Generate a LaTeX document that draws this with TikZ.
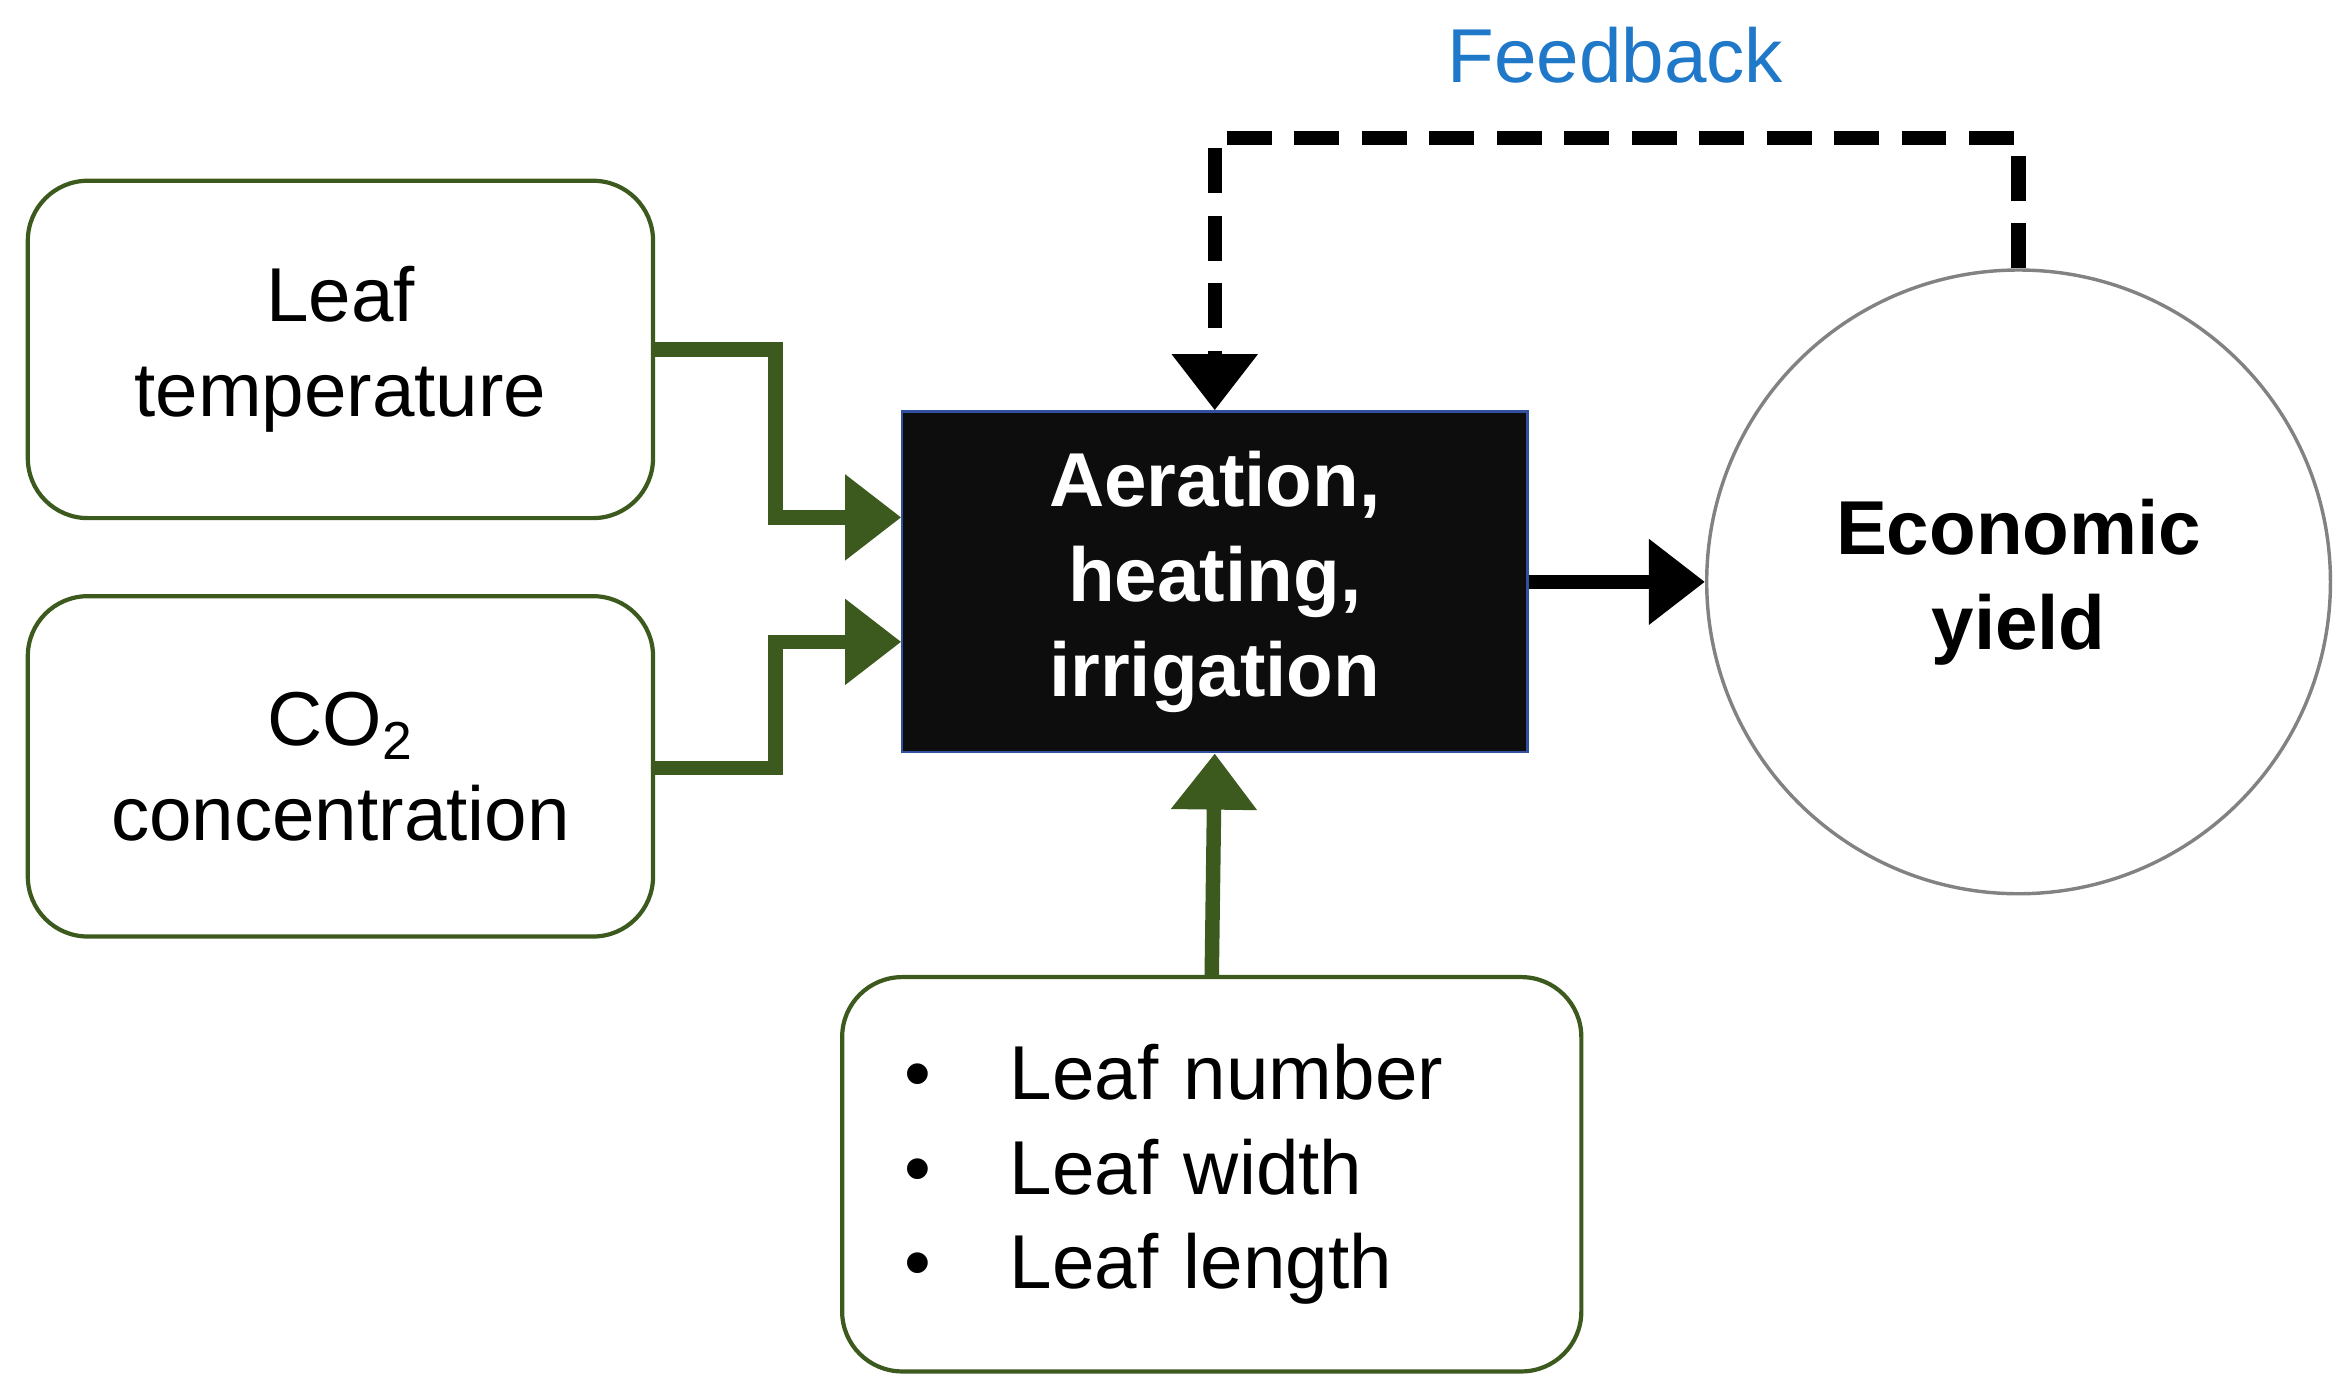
\documentclass[tikz,border=0pt]{standalone}
\usepackage{fontspec}
\setmainfont{Liberation Sans}
\usetikzlibrary{arrows.meta}
\definecolor{gr}{HTML}{3D5A1E}
\definecolor{fb}{HTML}{1F78C8}
\begin{document}
\begin{tikzpicture}[x=0.02cm,y=-0.02cm,
  rbox/.style={draw=gr,line width=1.6pt,rounded corners=0.8cm,align=center,font=\fontsize{29}{36}\selectfont},
  garr/.style={draw=gr,line width=5.5pt,-{Triangle[length=0.75cm,width=1.1cm]}},
  karr/.style={draw=black,line width=5.5pt,-{Triangle[length=0.75cm,width=1.1cm]}}]
\useasboundingbox (0,0) rectangle (1565,930);
\node[rbox,minimum width=8.34cm,minimum height=4.5cm] (lt) at (227,233) {Leaf\\temperature};
\node[rbox,minimum width=8.34cm,minimum height=4.54cm] (co) at (227,511) {CO\textsubscript{2}\\concentration};
\node[draw={rgb,255:red,50;green,80;blue,160},fill={rgb,255:red,13;green,13;blue,13},line width=1pt,minimum width=8.34cm,minimum height=4.54cm,text=white,align=center,font=\fontsize{29}{36}\selectfont\bfseries] (ah) at (810,388) {Aeration,\\heating,\\irrigation};
\node[circle,draw={rgb,255:red,130;green,130;blue,130},line width=1.3pt,minimum size=8.32cm,align=center,font=\fontsize{29}{36}\selectfont\bfseries] (ey) at (1346,388) {Economic\\yield};
\node[rbox,minimum width=9.86cm,minimum height=5.26cm,text width=8.2cm,align=left] (lf) at (808,783) {\textbullet\hspace{1.05cm}Leaf number\\\textbullet\hspace{1.05cm}Leaf width\\\textbullet\hspace{1.05cm}Leaf length};
\coordinate (a1) at (601,345);
\coordinate (a2) at (601,428);
\draw[garr] (lt.east|-0,233) -| (517,345) -- (a1);
\draw[garr] (co.east|-0,512) -| (517,428) -- (a2);
\draw[garr] (lf.north) -- (ah.south);
\draw[karr] (ah.east) -- (ey.west);
\coordinate (f1) at (1346,92);
\draw[line width=5.5pt,dash pattern=on 0.6cm off 0.3cm,-{Triangle[length=0.75cm,width=1.1cm]}] (ey.north) -- (f1) -| (ah.north);
\node[text=fb,font=\fontsize{29}{36}\selectfont] (fl) at (1077,37) {Feedback};
\end{tikzpicture}
\end{document}
